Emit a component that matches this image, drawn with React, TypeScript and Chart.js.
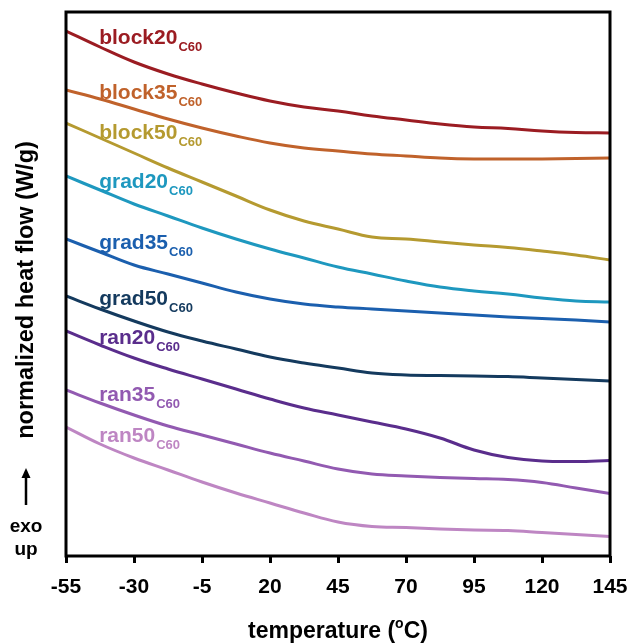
import React, { useEffect, useRef } from "react";
import { Chart, registerables } from "chart.js";

Chart.register(...registerables);

const FONT = "'Liberation Sans', Arial, sans-serif";

// temperature (°C)
const temperatures = [-55, -42.5, -30, -17.5, -5, 7.5, 20, 32.5, 45, 57.5, 70, 82.5, 95, 107.5, 120, 132.5, 145];
const xTicks = [-55, -30, -5, 20, 45, 70, 95, 120, 145];

// normalized heat flow (arbitrary offset units, exo up)
const block20 = [525, 509, 494, 482, 472, 463, 455, 449, 445, 440, 436, 432, 429, 427.5, 425, 423.5, 423];
const block35 = [466, 457, 447, 437, 428, 420, 413, 408, 405, 402, 400, 398, 397, 397, 397, 397.5, 398];
const block50 = [433, 418, 403, 388, 374, 360, 346, 335, 327, 319, 317, 314, 311, 308.5, 305, 301, 296];
const grad20 = [380, 366, 352, 340, 328, 317, 307, 298, 289, 282, 275, 269, 265, 262, 258, 255, 254];
const grad35 = [317, 304, 291, 282, 273, 264, 257, 252, 249, 247, 245, 243, 241, 239, 237.5, 236, 234];
const grad50 = [260, 247, 235, 224, 215, 207, 199, 193, 188, 183, 181, 180.5, 180, 179.5, 178, 176.5, 175];
const ran20 = [225, 211, 198, 187, 177, 167, 157, 148, 141, 134, 127, 118, 106, 98.5, 95, 94.5, 95.5];
const ran35 = [166, 153, 141, 130, 121, 112, 103, 95, 87, 82, 80, 78.5, 77.5, 76.5, 73.5, 68, 62.5];
const ran50 = [129, 112, 98, 86, 74, 63, 53, 43, 34, 29.5, 28.5, 27, 26, 25.5, 23.5, 21.5, 19.5];

const seriesNames = ["block20", "block35", "block50", "grad20", "grad35", "grad50", "ran20", "ran35", "ran50"];
const seriesValues = [block20, block35, block50, grad20, grad35, grad50, ran20, ran35, ran50];
const seriesColors = ["#9B1C22", "#C0622B", "#B59A30", "#1E98BF", "#1B5FAE", "#143A5E", "#5A2D8C", "#925AB1", "#BE86C3"];
const subscript = "C60";

// label anchors (data units)
const labelT = -42.8;
const labelYs = [512, 457, 417, 368, 307, 251, 212, 155, 114];

const yMin = 0;
const yMax = 544;

const decorPlugin = {
  id: "decor",
  afterDraw(chart: any) {
    const ctx = chart.ctx as CanvasRenderingContext2D;
    const area = chart.chartArea;
    const xs = chart.scales.x;
    const ys = chart.scales.y;
    ctx.save();
    // frame
    ctx.strokeStyle = "#000";
    ctx.lineWidth = 3;
    ctx.strokeRect(area.left, area.top, area.right - area.left, area.bottom - area.top);

    // series labels
    ctx.textAlign = "left";
    ctx.textBaseline = "alphabetic";
    seriesNames.forEach((name, i) => {
      const px = xs.getPixelForValue(labelT);
      const py = ys.getPixelForValue(labelYs[i]);
      ctx.fillStyle = seriesColors[i];
      ctx.font = `bold 21px ${FONT}`;
      ctx.fillText(name, px, py);
      const w = ctx.measureText(name).width;
      ctx.font = `bold 13px ${FONT}`;
      ctx.fillText(subscript, px + w + 1, py + 7);
    });

    // y title
    ctx.fillStyle = "#000";
    ctx.save();
    ctx.translate(33, 290);
    ctx.rotate(-Math.PI / 2);
    ctx.font = `bold 23.5px ${FONT}`;
    ctx.textAlign = "center";
    ctx.textBaseline = "alphabetic";
    ctx.fillText("normalized heat flow (W/g)", 0, 0);
    ctx.restore();

    // exo up arrow
    ctx.strokeStyle = "#000";
    ctx.lineWidth = 2.5;
    ctx.beginPath();
    ctx.moveTo(26, 505);
    ctx.lineTo(26, 476);
    ctx.stroke();
    ctx.beginPath();
    ctx.moveTo(26, 468);
    ctx.lineTo(21.5, 478);
    ctx.lineTo(30.5, 478);
    ctx.closePath();
    ctx.fill();
    ctx.font = `bold 19px ${FONT}`;
    ctx.textAlign = "center";
    ctx.fillText("exo", 26, 532);
    ctx.fillText("up", 26, 555);

    // x title with superscript
    const base = `bold 23px ${FONT}`;
    const sup = `bold 14px ${FONT}`;
    const p1 = "temperature (";
    const p2 = "o";
    const p3 = "C)";
    ctx.font = base;
    const w1 = ctx.measureText(p1).width;
    const w3 = ctx.measureText(p3).width;
    ctx.font = sup;
    const w2 = ctx.measureText(p2).width;
    const total = w1 + w2 + w3;
    const cx = (area.left + area.right) / 2;
    const x0 = cx - total / 2;
    const by = 638;
    ctx.textAlign = "left";
    ctx.font = base;
    ctx.fillText(p1, x0, by);
    ctx.font = sup;
    ctx.fillText(p2, x0 + w1, by - 10);
    ctx.font = base;
    ctx.fillText(p3, x0 + w1 + w2, by);
    ctx.restore();
  },
};

export default function App() {
  const ref = useRef<HTMLCanvasElement>(null);
  useEffect(() => {
    if (!ref.current) return;
    const chart = new Chart(ref.current, {
      type: "line",
      data: {
        datasets: seriesNames.map((name, i) => ({
          label: name,
          data: temperatures.map((t, j) => ({ x: t, y: seriesValues[i][j] })),
          borderColor: seriesColors[i],
          backgroundColor: seriesColors[i],
          borderWidth: 3,
          pointRadius: 0,
          tension: 0.4,
          fill: false,
        })),
      },
      options: {
        responsive: false,
        animation: false,
        layout: { padding: { left: 66, right: 22, top: 12, bottom: 0 } },
        plugins: { legend: { display: false }, tooltip: { enabled: false } },
        scales: {
          x: {
            type: "linear",
            min: -55,
            max: 145,
            afterBuildTicks: (scale: any) => {
              scale.ticks = xTicks.map((v) => ({ value: v }));
            },
            afterFit: (scale: any) => {
              scale.height = 87;
              scale.paddingLeft = 0;
              scale.paddingRight = 0;
            },
            ticks: {
              color: "#000",
              font: { family: FONT, size: 21, weight: "bold" },
              padding: 12,
              maxRotation: 0,
              autoSkip: false,
            },
            grid: { drawOnChartArea: false, drawTicks: true, tickLength: 7, color: "#000", lineWidth: 3 },
            border: { display: false },
          },
          y: {
            display: false,
            min: yMin,
            max: yMax,
          },
        },
      },
      plugins: [decorPlugin],
    });
    return () => chart.destroy();
  }, []);
  return (
    <div style={{ position: "absolute", left: 0, top: 0, width: 632, height: 643 }}>
      <canvas ref={ref} width={632} height={643} />
    </div>
  );
}
